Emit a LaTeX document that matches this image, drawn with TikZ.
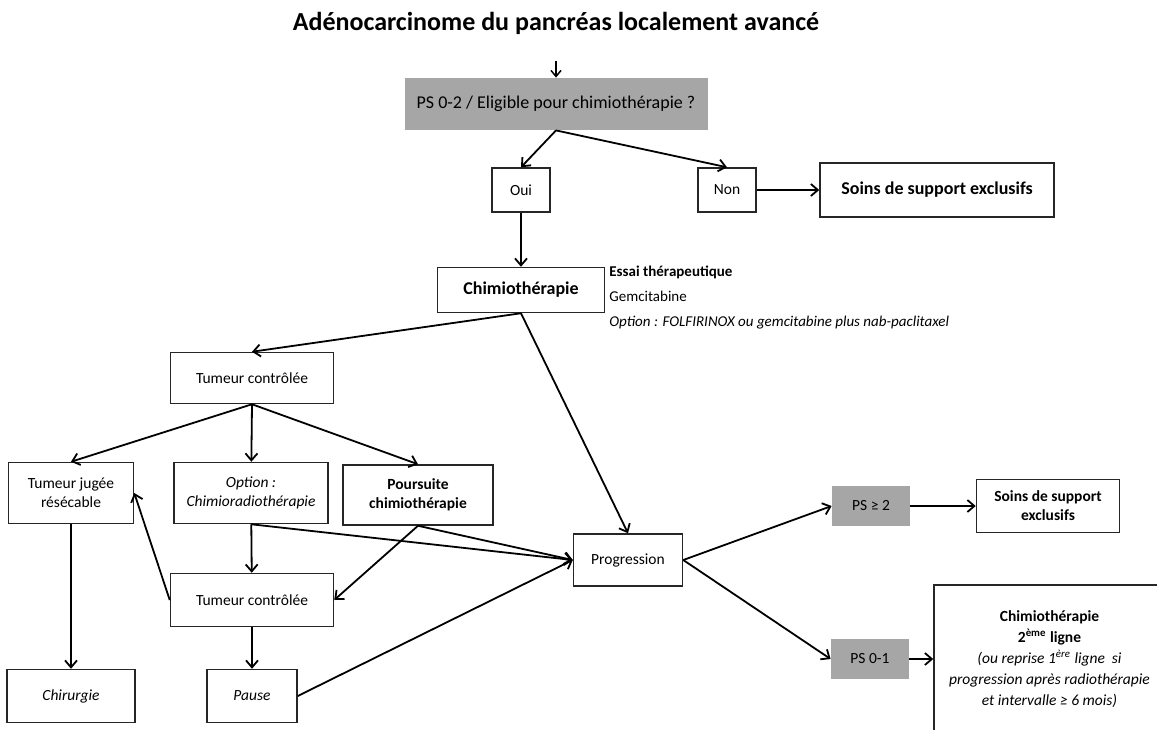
\documentclass[tikz,border=0pt]{standalone}
\usepackage{fontspec}
\setmainfont{Carlito}
\usetikzlibrary{arrows.meta}

\begin{document}
\begin{tikzpicture}
[x=0.5pt,y=-0.5pt,
 every node/.style={font=\fontsize{7.75}{9.5}\selectfont,align=center,inner sep=1pt},
 box/.style={draw=black!85,line width=0.75pt},
 greybox/.style={fill=black!35},
 link/.style={-{Straight Barb[length=3.5pt,width=6pt,line width=0.9pt]},line width=0.9pt}]
\clip (0,0) rectangle (1157,729);

\node[font=\fontsize{13}{15}\selectfont\bfseries,inner sep=0pt] (title) at (556,23) {Adénocarcinome du pancréas localement avancé};
\node[greybox,minimum width=151.5pt,minimum height=26pt,font=\fontsize{9}{11}\selectfont] (ps02) at (556,104) {PS 0-2 / Eligible pour chimiothérapie ?};
\node[box,minimum width=29pt,minimum height=22pt] (oui) at (521,190) {Oui};
\node[box,minimum width=29pt,minimum height=22pt] (non) at (727,190) {Non};
\node[box,minimum width=117pt,minimum height=27pt,font=\fontsize{9}{11}\selectfont\bfseries] (soins) at (937,190) {Soins de support exclusifs};
\node[box,minimum width=83.5pt,minimum height=22.5pt,font=\fontsize{9}{11}\selectfont\bfseries] (chimio) at (521,290) {Chimiothérapie};
\node[anchor=west,align=left,inner sep=0pt,font=\fontsize{7.5}{12.5}\selectfont] (essai) at (609,298)
  {\textbf{Essai thérapeutique}\\Gemcitabine\\\textit{Option : FOLFIRINOX ou gemcitabine plus nab-paclitaxel}};

\node[box,minimum width=81.5pt,minimum height=25.5pt] (tc1) at (252,378) {Tumeur contrôlée};
\node[box,minimum width=62.5pt,minimum height=30.5pt] (tjr) at (71,493) {Tumeur jugée\\résécable};
\node[box,minimum width=77pt,minimum height=30.5pt,font=\fontsize{7.75}{9.5}\selectfont\itshape] (optcr) at (251,493) {Option :\\Chimioradiothérapie};
\node[box,minimum width=75pt,minimum height=30pt,font=\fontsize{7.75}{9.5}\selectfont\bfseries] (poursuite) at (418,495) {Poursuite\\chimiothérapie};
\node[box,minimum width=81.5pt,minimum height=26.5pt] (tc2) at (252,600) {Tumeur contrôlée};
\node[box,minimum width=64pt,minimum height=26.5pt,font=\fontsize{7.75}{9.5}\selectfont\itshape] (chir) at (71,696) {Chirurgie};
\node[box,minimum width=45pt,minimum height=26.5pt,font=\fontsize{7.75}{9.5}\selectfont\itshape] (pause) at (252,696) {Pause};

\node[box,minimum width=54.5pt,minimum height=26pt] (prog) at (628,560) {Progression};
\node[greybox,minimum width=39pt,minimum height=20pt] (ps2) at (871,506) {PS ≥ 2};
\node[greybox,minimum width=39pt,minimum height=20pt] (ps01) at (870,659) {PS 0-1};
\node[box,minimum width=71.5pt,minimum height=26.5pt,font=\fontsize{7.75}{9.5}\selectfont\bfseries] (soins2) at (1048,506) {Soins de support\\exclusifs};
\node[box,minimum width=115.5pt,minimum height=74pt,font=\fontsize{7.75}{10.5}\selectfont] (chimio2) at (1049.5,659)
  {\textbf{Chimiothérapie}\\\textbf{2\textsuperscript{ème} ligne}\\\textit{(ou reprise 1\textsuperscript{ère} ligne\ \ si}\\\textit{progression après radiothérapie}\\\textit{et intervalle ≥ 6 mois)}};

\draw[-{Straight Barb[length=3pt,width=5pt]},line width=0.75pt,shorten <=13pt] (title) -- (ps02);
\path[link] (ps02.south) edge (oui.north)
                         edge (non.north)
	(non) edge (soins)
	(oui) edge (chimio)
	(chimio.south) edge (tc1.north)
	               edge (prog.north)
	(tc1.south) edge (tjr.north)
	            edge (optcr)
	            edge (poursuite.north)
	(tjr) edge (chir)
	(optcr) edge (tc2)
	(tc2) edge (pause)
	(tc2.west) edge (tjr.east)
	(poursuite.south) edge (tc2.east)
	                  edge (prog.west)
	(optcr.south) edge (prog.west)
	(pause.east) edge (prog.west)
	(prog.east) edge (ps2.west)
	            edge (ps01.west)
	(ps2) edge (soins2)
	(ps01) edge (chimio2);
\end{tikzpicture}
\end{document}
